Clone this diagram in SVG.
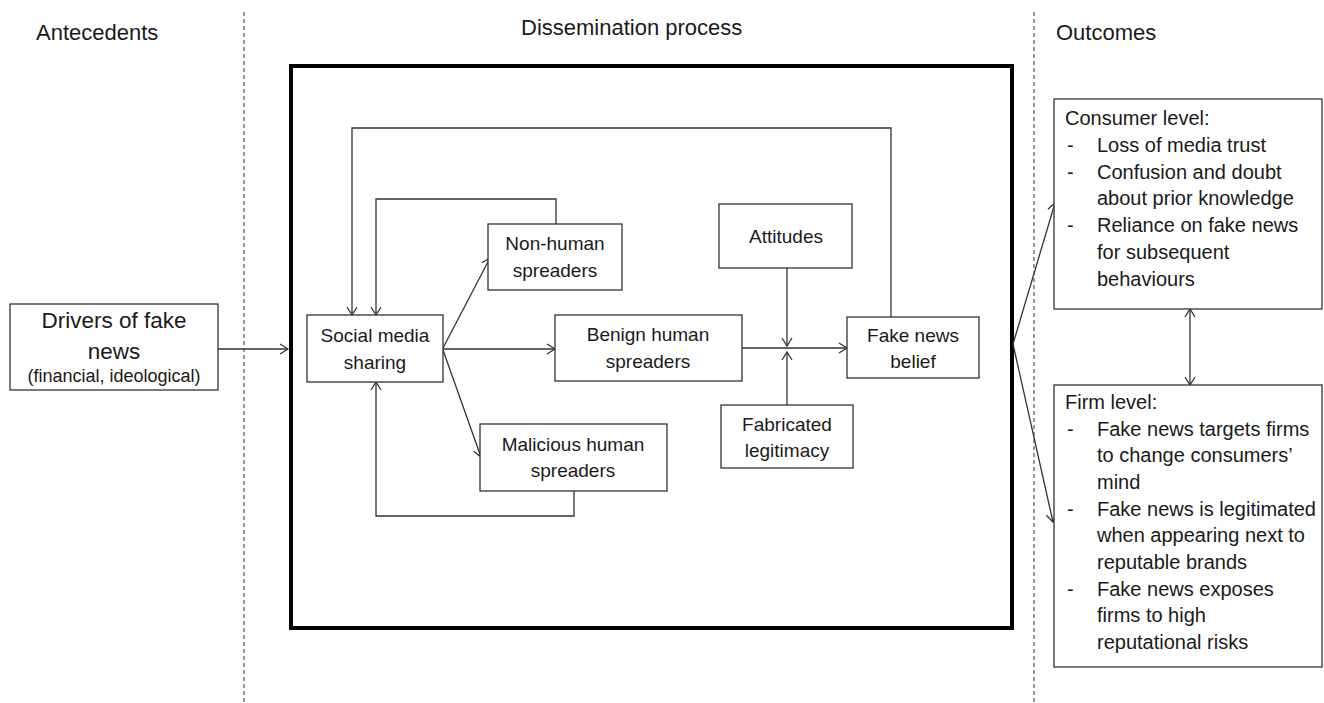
<svg xmlns="http://www.w3.org/2000/svg" width="1324" height="703" viewBox="0 0 1324 703">
<style>
text{font-family:"Liberation Sans",Arial,sans-serif;fill:#1a1a1a}
.n{font-size:19px;text-anchor:middle}
.h{font-size:22px}
.o{font-size:20px}
.box{fill:#fff;stroke:#333;stroke-width:1.3}
.c{fill:none;stroke:#333;stroke-width:1.3}
.d{fill:none;stroke:#555;stroke-width:1.2;stroke-dasharray:4 3}
</style>
<defs>
<marker id="a" markerUnits="userSpaceOnUse" markerWidth="12" markerHeight="14" refX="9" refY="6" orient="auto-start-reverse" viewBox="0 0 12 12">
<path d="M1,1 L9,6 L1,11" fill="none" stroke="#333" stroke-width="1.3"/>
</marker>
</defs>
<rect width="1324" height="703" fill="#fff"/>
<line class="d" x1="244" y1="12" x2="244" y2="703"/>
<line class="d" x1="1034" y1="12" x2="1034" y2="703"/>
<text class="h" x="36" y="40">Antecedents</text>
<text class="h" x="521" y="35">Dissemination process</text>
<text class="h" x="1056" y="40">Outcomes</text>
<rect x="291" y="66" width="721" height="562" fill="none" stroke="#000" stroke-width="4"/>
<g id="connectors">
<path class="c" d="M218,349 L288,349" marker-end="url(#a)"/>
<path class="c" d="M443,348 L490,258" marker-end="url(#a)"/>
<path class="c" d="M443,349 L555,349" marker-end="url(#a)"/>
<path class="c" d="M443,350 L481,457" marker-end="url(#a)"/>
<path class="c" d="M556,224 L556,199 L376,199 L376,315" marker-end="url(#a)"/>
<path class="c" d="M891,317 L891,128 L352,128 L352,315" marker-end="url(#a)"/>
<path class="c" d="M574,491 L574,516 L376,516 L376,382" marker-end="url(#a)"/>
<path class="c" d="M742,348 L847,348" marker-end="url(#a)"/>
<path class="c" d="M787,268 L787,346" marker-end="url(#a)"/>
<path class="c" d="M787,405 L787,352" marker-end="url(#a)"/>
<path class="c" d="M1013,344 L1055,203" marker-end="url(#a)"/>
<path class="c" d="M1013,344 L1053,522" marker-end="url(#a)"/>
<path class="c" d="M1190,309 L1190,385" marker-start="url(#a)" marker-end="url(#a)"/>
</g>
<g id="drivers">
<rect class="box" x="10" y="304" width="208" height="86"/>
<text x="114" y="328" style="font-size:22.5px;text-anchor:middle">Drivers of fake</text>
<text x="114" y="359" style="font-size:22.5px;text-anchor:middle">news</text>
<text x="114" y="382" style="font-size:18px;text-anchor:middle">(financial, ideological)</text>
</g>
<g id="social">
<rect class="box" x="307" y="315" width="136" height="67"/>
<text class="n" x="375" y="342">Social media</text>
<text class="n" x="375" y="369">sharing</text>
</g>
<g id="nonhuman">
<rect class="box" x="488" y="224" width="134" height="66"/>
<text class="n" x="555" y="250">Non-human</text>
<text class="n" x="555" y="277">spreaders</text>
</g>
<g id="benign">
<rect class="box" x="555" y="315" width="187" height="66"/>
<text class="n" x="648" y="341">Benign human</text>
<text class="n" x="648" y="368">spreaders</text>
</g>
<g id="malicious">
<rect class="box" x="480" y="424" width="187" height="67"/>
<text class="n" x="573" y="451">Malicious human</text>
<text class="n" x="573" y="477">spreaders</text>
</g>
<g id="attitudes">
<rect class="box" x="719" y="204" width="133" height="64"/>
<text class="n" x="786" y="243">Attitudes</text>
</g>
<g id="belief">
<rect class="box" x="847" y="317" width="132" height="61"/>
<text class="n" x="913" y="342">Fake news</text>
<text class="n" x="913" y="368">belief</text>
</g>
<g id="fabricated">
<rect class="box" x="721" y="405" width="132" height="63"/>
<text class="n" x="787" y="431">Fabricated</text>
<text class="n" x="787" y="457">legitimacy</text>
</g>
<g id="consumer">
<rect class="box" x="1054" y="99" width="268" height="210"/>
<text class="o" x="1065" y="125">Consumer level:</text>
<text class="o" x="1067" y="152">-</text><text class="o" x="1097" y="152">Loss of media trust</text>
<text class="o" x="1067" y="179">-</text><text class="o" x="1097" y="179">Confusion and doubt</text>
<text class="o" x="1097" y="205">about prior knowledge</text>
<text class="o" x="1067" y="232">-</text><text class="o" x="1097" y="232">Reliance on fake news</text>
<text class="o" x="1097" y="259">for subsequent</text>
<text class="o" x="1097" y="286">behaviours</text>
</g>
<g id="firm">
<rect class="box" x="1054" y="385" width="268" height="282"/>
<text class="o" x="1065" y="409">Firm level:</text>
<text class="o" x="1067" y="436">-</text><text class="o" x="1097" y="436">Fake news targets firms</text>
<text class="o" x="1097" y="462">to change consumers’</text>
<text class="o" x="1097" y="489">mind</text>
<text class="o" x="1067" y="516">-</text><text class="o" x="1097" y="516">Fake news is legitimated</text>
<text class="o" x="1097" y="542">when appearing next to</text>
<text class="o" x="1097" y="569">reputable brands</text>
<text class="o" x="1067" y="596">-</text><text class="o" x="1097" y="596">Fake news exposes</text>
<text class="o" x="1097" y="622">firms to high</text>
<text class="o" x="1097" y="649">reputational risks</text>
</g>
</svg>
